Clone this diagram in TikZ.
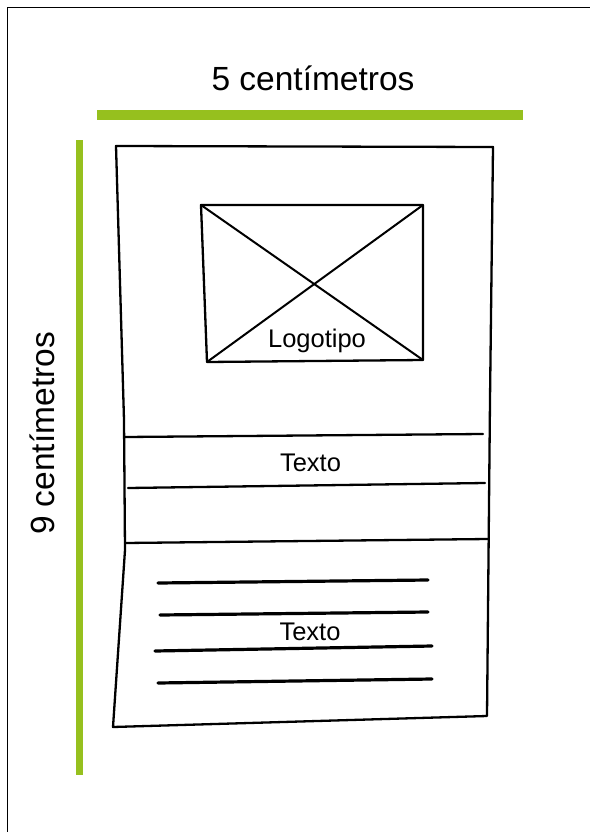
\documentclass[tikz,border=0pt]{standalone}
\usepackage{fontspec}
\setmainfont{Liberation Sans}
\definecolor{barGreen}{RGB}{150,192,30}
\begin{document}
\begin{tikzpicture}[x=1pt,y=-1pt,
  pen/.style={line width=2.3pt,line cap=round,line join=round,black},
  thickpen/.style={line width=3.2pt,line cap=round,black},
  frameline/.style={line width=1.6pt,black},
  bar/.style={fill=barGreen,draw=none},
  bigtext/.style={font=\fontsize{33.5}{40}\selectfont,inner sep=0pt,anchor=base},
  smalltext/.style={font=\fontsize{25.5}{30}\selectfont,inner sep=0pt,anchor=base}]
\useasboundingbox (0,0) rectangle (590,832);
% outer frame (only top and left visible)
\draw[frameline] (7.5,832) -- (7.5,7.5) -- (590,7.5);
% green dimension bars
\fill[bar] (97,110) rectangle (523,120);
\fill[bar] (75.5,140) rectangle (83,775);
% dimension labels
\node[bigtext] (wlabel) at (313,91) {5 centímetros};
\node[bigtext,rotate=90] (hlabel) at (54,433.5) {9 centímetros};
% page outline
\coordinate (ptl) at (116,146);
\coordinate (ptr) at (493,147);
\coordinate (pbr) at (487,716);
\coordinate (pbl) at (113,727);
\draw[pen] (ptl) -- (ptr) -- (490,400) -- (pbr) -- (pbl) -- (125,550) -- (124,420) -- cycle;
% logo box
\coordinate (ltl) at (201,205);
\coordinate (ltr) at (423,205);
\coordinate (lbr) at (423,360);
\coordinate (lbl) at (207,362);
\draw[pen] (ltl) -- (ltr) -- (lbr) -- (lbl) -- cycle;
\draw[pen,line width=2pt] (ltl) -- (lbr);
\draw[pen,line width=2pt] (ltr) -- (lbl);
\node[smalltext] (logo) at (317,347) {Logotipo};
% band lines
\draw[pen] (125,437) -- (483,434);
\draw[pen] (128,488) -- (485,483);
\draw[pen] (125,543) -- (488,539);
\node[smalltext] (texto1) at (310.5,471) {Texto};
% text lines
\draw[thickpen] (158,583) -- (428,580);
\draw[thickpen] (160,615) -- (428,612);
\draw[thickpen] (155,651) -- (432,646);
\draw[thickpen] (158,683) -- (432,679);
\node[smalltext] (texto2) at (310,640) {Texto};
\end{tikzpicture}
\end{document}
